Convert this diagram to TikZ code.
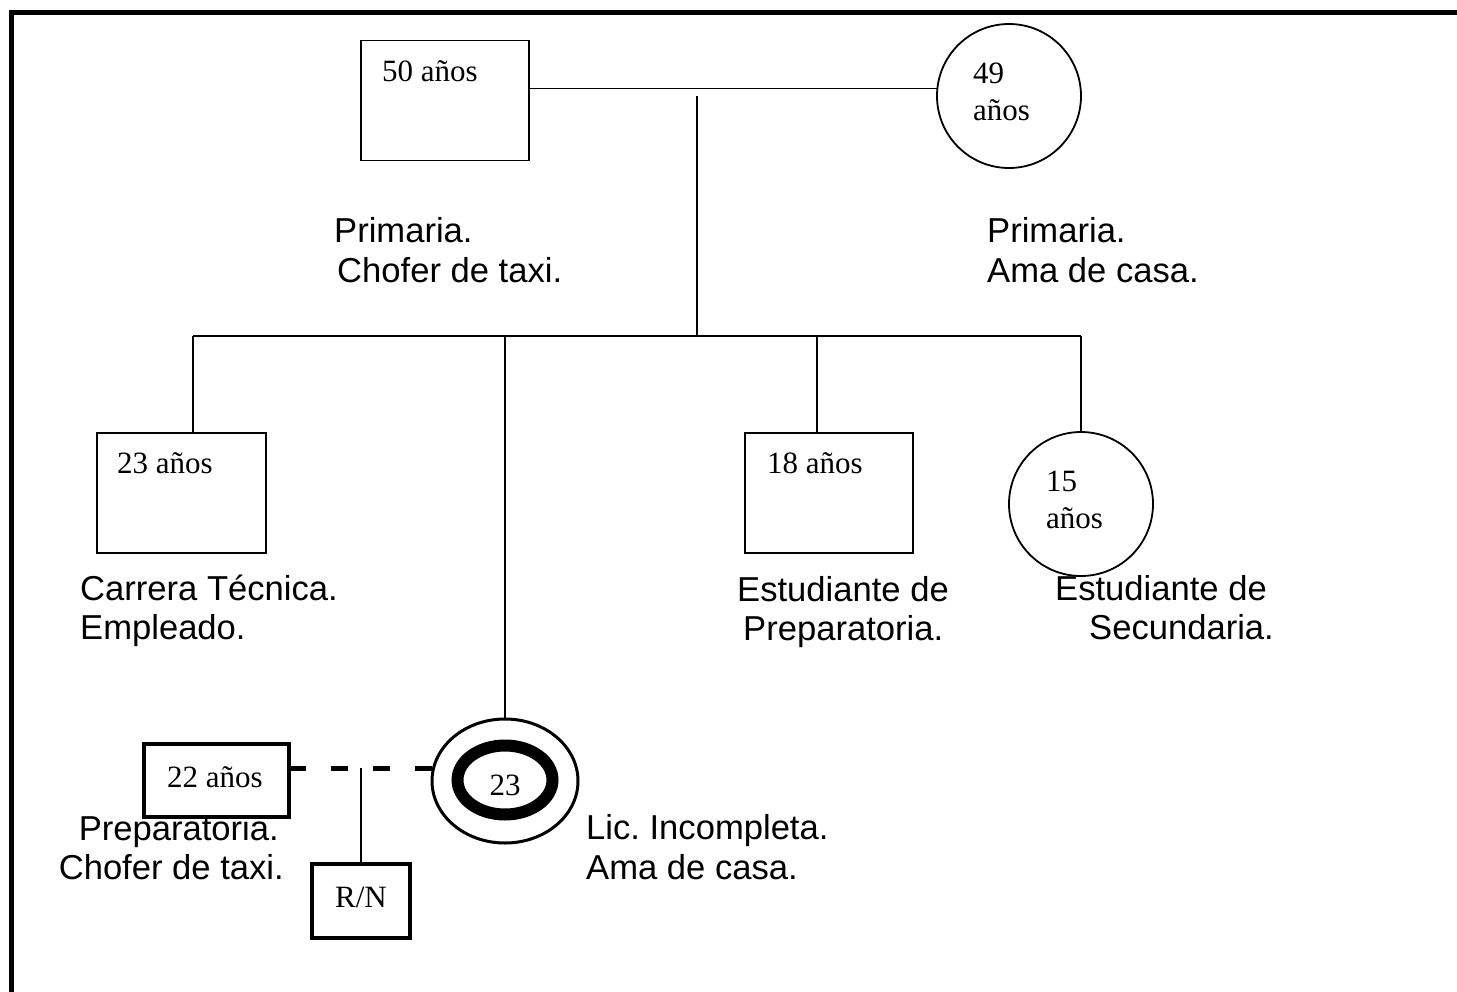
\documentclass[tikz,border=0pt]{standalone}
\usepackage{fontspec}
\setmainfont{Liberation Serif}
\newfontfamily\arialf{Liberation Sans}
\usetikzlibrary{shapes.geometric}
\frenchspacing
\begin{document}
\begin{tikzpicture}[x=1pt,y=-1pt,
  thinline/.style={line width=1.8pt},
  person/.style={draw, thinline, inner sep=0pt, outer sep=0pt},
  malebox/.style={person, rectangle, minimum width=168pt, minimum height=120pt},
  femcirc/.style={person, circle, minimum size=144pt},
  age/.style={inner sep=0pt, anchor=base west, font=\fontsize{31}{37}\selectfont},
  agec/.style={inner sep=0pt, anchor=base, font=\fontsize{31}{37}\selectfont},
  info/.style={inner sep=0pt, anchor=base west, font=\arialf\fontsize{34.6}{40}\selectfont},
  info r/.style={inner sep=0pt, anchor=base east, font=\arialf\fontsize{34.6}{40}\selectfont},
]
\useasboundingbox (0,0) rectangle (1457,991);
\fill[white] (0,0) rectangle (1457,991);
% frame
\draw[line width=5pt, line join=miter] (11,1010) -- (11,12) -- (1480,12);

% parents
\node[malebox] (f) at (445,100.5) {};
\node[femcirc] (m) at (1009,96) {};
% children
\node[malebox, minimum width=169pt] (c1) at (181.5,493) {};
\node[malebox] (c3) at (829,493) {};
\node[femcirc] (c4) at (1081,504) {};
\node[person, ellipse, line width=3pt, minimum width=146pt, minimum height=124pt] (ix) at (505,781) {};
\node[person, ellipse, line width=12pt, minimum width=95pt, minimum height=69pt] (ixin) at (505,780) {};
% partner and child
\node[person, rectangle, line width=4pt, minimum width=145pt, minimum height=73pt] (p) at (216.5,780.5) {};
\node[person, rectangle, line width=4pt, minimum width=98pt, minimum height=74pt] (rn) at (361,901) {};

% connectors
\draw[thinline] (f.east |- m.174) -- (m.174);
\coordinate (desc) at (697,96);
\coordinate (sib) at (697,336);
\draw[thinline] (desc) -- (sib);
\coordinate (s1) at (193,336);
\coordinate (s2) at (505,336);
\coordinate (s3) at (817,336);
\coordinate (s4) at (1081,336);
\draw[thinline] (s1) -- (s4);
\draw[thinline] (s1) -- (s1 |- c1.north);
\draw[thinline] (s2) -- (ix.north);
\draw[thinline] (s3) -- (s3 |- c3.north);
\draw[thinline] (s4) -- (c4.north);
\draw[line width=5pt, dash pattern=on 17pt off 25pt] (p.east |- ix.170.5) -- (ix.170.5);
\draw[thinline] (rn.north |- ix.170.5) -- (rn.north);

% ages
\node[age] (tf) at (382,81) {50 años};
\node[age] (tm1) at (973,83) {49};
\node[age] (tm2) at (973,120) {años};
\node[age] (tc1) at (117,473) {23 años};
\node[age] (tc3) at (767,473) {18 años};
\node[age] (tc41) at (1046,491) {15};
\node[age] (tc42) at (1046,528) {años};
\node[agec] (tp) at (215,787) {22 años};
\node[agec] (trn) at (361,907) {R/N};
\node[agec] (tix) at (505,795) {23};

% information
\node[info] (if1) at (334,242) {Primaria.};
\node[info] (if2) at (337,282) {Chofer de taxi.};
\node[info] (im1) at (987,242) {Primaria.};
\node[info] (im2) at (987,282) {Ama de casa.};
\node[info] (ic11) at (80,600) {Carrera Técnica.};
\node[info] (ic12) at (80,639) {Empleado.};
\node[info] (ic31) at (737,601) {Estudiante de};
\node[info] (ic32) at (743,640) {Preparatoria.};
\node[info] (ic41) at (1055,600) {Estudiante de};
\node[info] (ic42) at (1089,639) {Secundaria.};
\node[info r] (ip1) at (279,840) {Preparatoria.};
\node[info r] (ip2) at (284,879) {Chofer de taxi.};
\node[info] (iix1) at (586,839) {Lic.\ Incompleta.};
\node[info] (iix2) at (586,879) {Ama de casa.};
\end{tikzpicture}
\end{document}
